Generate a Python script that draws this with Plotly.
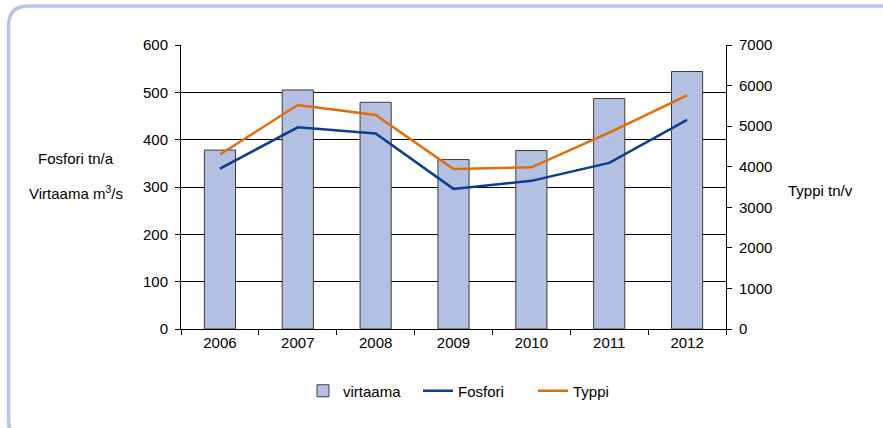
import plotly.graph_objects as go

years = ["2006", "2007", "2008", "2009", "2010", "2011", "2012"]
virtaama = [378, 505, 479, 358, 377, 487, 544]
fosfori = [339, 426, 413, 296, 313, 351, 442]
typpi = [4300, 5520, 5275, 3945, 3985, 4840, 5760]

W, H = 883, 428
ML, MR, MT, MB = 181, 157, 45, 99
PW, PH = W - ML - MR, H - MT - MB

def px(x):
    return (x - ML) / PW

def py(y):
    return (H - MB - y) / PH

FONT = "Liberation Sans, Arial, sans-serif"

fig = go.Figure()
fig.add_trace(go.Bar(
    x=years, y=virtaama, name="virtaama",
    marker=dict(color="#b3c0e2", line=dict(color="#3c3c3c", width=1)),
))
fig.add_trace(go.Scatter(
    x=years, y=fosfori, name="Fosfori", mode="lines",
    line=dict(color="#0b3d91", width=2.5),
))
fig.add_trace(go.Scatter(
    x=years, y=typpi, name="Typpi", mode="lines", yaxis="y2",
    line=dict(color="#e36c0a", width=2.5),
))

# rounded frame (only top/left visible in the window)
x0, x1 = px(8.5), px(900)
y0, y1 = py(6), py(440)
r = 20
rx, ry = r / PW, r / PH
path = (f"M {x0+rx},{y0} L {x1},{y0} M {x0},{y0-ry} Q {x0},{y0} {x0+rx},{y0} "
        f"M {x0},{y0-ry} L {x0},{y1+ry} Q {x0},{y1} {x0+rx},{y1} L {x1},{y1}")
fig.add_shape(type="path", xref="paper", yref="paper", path=path,
              line=dict(color="#b7c4e6", width=3.5), layer="below")

fig.add_annotation(text="Fosfori tn/a", xref="paper", yref="paper",
                   x=px(76), y=py(158), xanchor="center", yanchor="middle", showarrow=False,
                   font=dict(size=15, color="#000", family=FONT))
fig.add_annotation(text="Virtaama m<sup>3</sup>/s", xref="paper", yref="paper",
                   x=px(76), y=py(192), xanchor="center", yanchor="middle", showarrow=False,
                   font=dict(size=15, color="#000", family=FONT))
fig.add_annotation(text="Typpi tn/v", xref="paper", yref="paper",
                   x=px(820), y=py(190), xanchor="center", yanchor="middle", showarrow=False,
                   font=dict(size=15, color="#000", family=FONT))

fig.update_layout(
    width=W, height=H,
    margin=dict(l=ML, r=MR, t=MT, b=MB, pad=0),
    paper_bgcolor="white", plot_bgcolor="white",
    font=dict(family=FONT, size=15, color="#000"),
    bargap=0.6,
    showlegend=True,
    legend=dict(orientation="h", x=px(303), xanchor="left", y=py(391), yanchor="middle",
                font=dict(size=15), itemwidth=30, entrywidth=70, entrywidthmode="pixels",
                traceorder="normal"),
    xaxis=dict(
        type="category", showline=True, linecolor="#000", linewidth=1,
        ticks="outside", ticklen=5, tickcolor="#000", tickson="boundaries",
        showgrid=False, zeroline=False, mirror=False,
    ),
    yaxis=dict(
        range=[0, 600], dtick=100, showline=True, linecolor="#000", linewidth=1,
        ticks="outside", ticklen=5, tickcolor="#000",
        showgrid=True, gridcolor="#000", gridwidth=1, zeroline=False,
        ticklabelstandoff=4,
    ),
    yaxis2=dict(
        range=[0, 7000], dtick=1000, overlaying="y", side="right",
        showline=True, linecolor="#000", linewidth=1,
        ticks="outside", ticklen=5, tickcolor="#000",
        showgrid=False, zeroline=False, ticklabelstandoff=4,
    ),
)

fig.write_html("out.html", config={"displayModeBar": False},
               post_script="document.body.style.margin='0';document.body.style.overflow='hidden';")
